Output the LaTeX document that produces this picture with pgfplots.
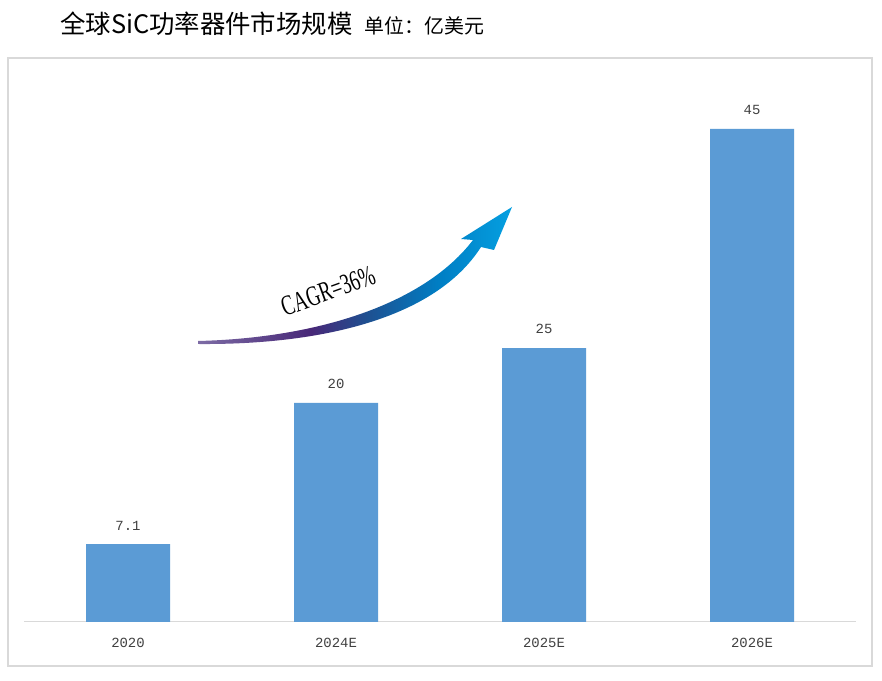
\documentclass[border=0pt]{standalone}
\usepackage{fontspec}
\usepackage{graphicx}
\usepackage{pgfplots}
\pgfplotsset{compat=1.18}
\newfontfamily\cjk{Noto Sans CJK SC}
\newfontfamily\monofont{Liberation Mono}
\newfontfamily\serifont{Liberation Serif}
\definecolor{barblue}{HTML}{5B9BD5}
\definecolor{boxgray}{HTML}{D9D9D9}
\definecolor{axgray}{HTML}{D9D9D9}
\definecolor{labgray}{HTML}{404040}
\definecolor{arrA}{RGB}{125,108,165}
\definecolor{arrB}{RGB}{72,40,120}
\definecolor{arrD}{RGB}{30,80,145}
\definecolor{arrE}{RGB}{0,125,195}
\definecolor{arrC}{RGB}{5,160,225}
\pgfdeclarehorizontalshading{arrowshade}{100bp}{color(0bp)=(arrA); color(25bp)=(arrA); color(43bp)=(arrB); color(52bp)=(arrD); color(63bp)=(arrE); color(75bp)=(arrC); color(100bp)=(arrC)}
\begin{document}
\begin{tikzpicture}[x=1bp,y=1bp]
\useasboundingbox (0,0) rectangle (882,681);
\fill[white] (0,0) rectangle (882,681);
\draw[boxgray, line width=1.2bp] (8,15) rectangle (872,623);
\node[anchor=west, inner sep=0pt] at (60,657) {\fontsize{25.5}{25.5}\selectfont\cjk 全球SiC功率器件市场规模\hspace{12bp}\fontsize{20}{20}\selectfont 单位：亿美元};
\begin{axis}[
  at={(24bp,59bp)}, anchor=south west,
  scale only axis, width=832bp, height=493bp,
  xmin=-0.5, xmax=3.5, ymin=0, ymax=45,
  clip=false,
  axis y line=none,
  axis x line*=bottom,
  x axis line style={draw=axgray, line width=1bp, -},
  xtick={0,1,2,3},
  xticklabels={2020,2024E,2025E,2026E},
  major tick length=0pt,
  xticklabel style={font=\fontsize{14}{14}\selectfont\monofont, text=labgray, inner sep=0pt, yshift=-16bp},
  ybar, bar width=84bp,
  point meta=explicit symbolic,
  nodes near coords={\pgfplotspointmeta},
  every node near coord/.append style={font=\fontsize{14}{14}\selectfont\monofont, text=labgray, inner sep=0pt, yshift=14bp, anchor=south},
]
\addplot[fill=barblue, draw=none] coordinates {(0,7.1)[7.1] (1,20)[20] (2,25)[25] (3,45)[45]};
\end{axis}
% growth arrow
\shade[shading=arrowshade]
  (198,337) .. controls (320,336) and (435,362) .. (481,434)
  -- (494,431) -- (512,474) -- (461,442) -- (473,441)
  .. controls (425,378) and (320,343) .. (198,340) -- cycle;
\node[rotate=20, inner sep=0pt] at (328,390) {\scalebox{1}[1.5]{\fontsize{19}{19}\selectfont\serifont CAGR=36\%}};
\end{tikzpicture}
\end{document}
